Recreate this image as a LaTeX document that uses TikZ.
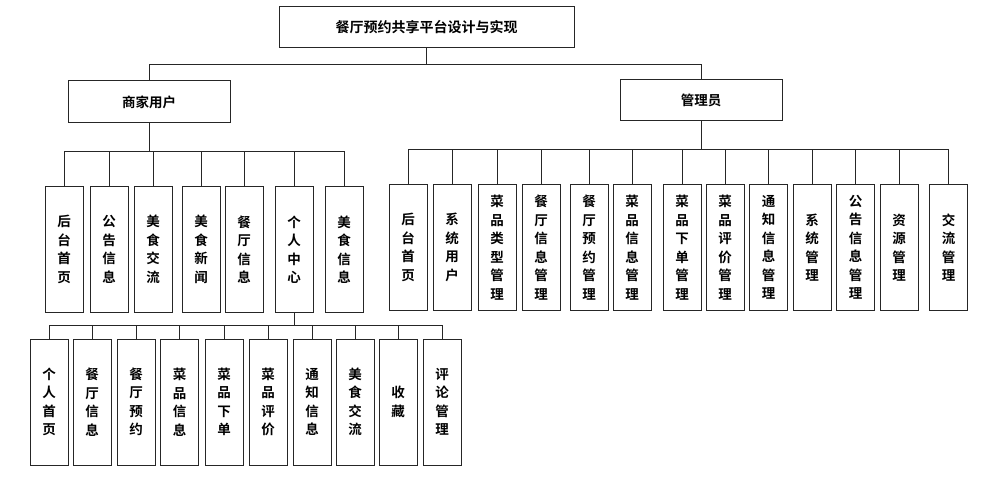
\documentclass[tikz,border=0pt]{standalone}
\usepackage{fontspec}
\setmainfont{Noto Sans CJK SC}[BoldFont={Noto Sans CJK SC Bold}]
\begin{document}
\begin{tikzpicture}[x=1pt,y=-1pt,
  box/.style={draw=black!85, line width=1pt, fill=white, inner sep=0pt, align=center,
    font=\fontsize{13.5}{18.5}\selectfont\bfseries},
  hbox/.style={box, minimum width=#1, minimum height=41},
  vbox/.style={box, minimum width=38, minimum height=125, text width=20},
  conn/.style={draw=black!85, line width=1pt}]
\useasboundingbox (0,0) rectangle (990,478);
% top level
\node[hbox=295, font=\fontsize{14}{16}\selectfont\bfseries] (root) at (426.5,27.5) {餐厅预约共享平台设计与实现};
\node[hbox=162, minimum height=42] (m) at (149,102) {商家用户};
\node[hbox=162] (a) at (701,100.5) {管理员};
\draw[conn] (root.south) -- ++(0,16) -| (m.north);
\draw[conn] (root.south) -- ++(0,16) -| (a.north);
% merchant children
\foreach \n/\x/\t in {m1/64/{后\\台\\首\\页}, m2/109/{公\\告\\信\\息}, m3/153/{美\\食\\交\\流},
  m4/201/{美\\食\\新\\闻}, m5/244/{餐\\厅\\信\\息}, m6/294/{个\\人\\中\\心}, m7/344/{美\\食\\信\\息}}{
  \node[vbox] (\n) at (\x,249.5) {\t};
  \draw[conn] (m.south) -- ++(0,28) -| (\n.north);
}
% personal center children
\foreach \n/\x/\t in {p1/49/{个\\人\\首\\页}, p2/92/{餐\\厅\\信\\息}, p3/136/{餐\\厅\\预\\约},
  p4/179.5/{菜\\品\\信\\息}, p5/224/{菜\\品\\下\\单}, p6/268/{菜\\品\\评\\价},
  p7/312/{通\\知\\信\\息}, p8/355/{美\\食\\交\\流}, p9/398/{收\\藏}, p10/442/{评\\论\\管\\理}}{
  \node[vbox, minimum height=126] (\n) at (\x,402) {\t};
  \draw[conn] (m6.south) -- ++(0,13) -| (\n.north);
}
% admin children
\foreach \n/\x/\t in {a1/408/{后\\台\\首\\页}, a2/452/{系\\统\\用\\户}, a3/497/{菜\\品\\类\\型\\管\\理},
  a4/541/{餐\\厅\\信\\息\\管\\理}, a5/589/{餐\\厅\\预\\约\\管\\理}, a6/632/{菜\\品\\信\\息\\管\\理},
  a7/682/{菜\\品\\下\\单\\管\\理}, a8/725/{菜\\品\\评\\价\\管\\理}, a9/768.5/{通\\知\\信\\息\\管\\理},
  a10/812/{系\\统\\管\\理}, a11/855.5/{公\\告\\信\\息\\管\\理}, a12/899/{资\\源\\管\\理}, a13/948.5/{交\\流\\管\\理}}{
  \node[vbox] (\n) at (\x,247.5) {\t};
  \draw[conn] (a.south) -- ++(0,28) -| (\n.north);
}
\end{tikzpicture}
\end{document}
